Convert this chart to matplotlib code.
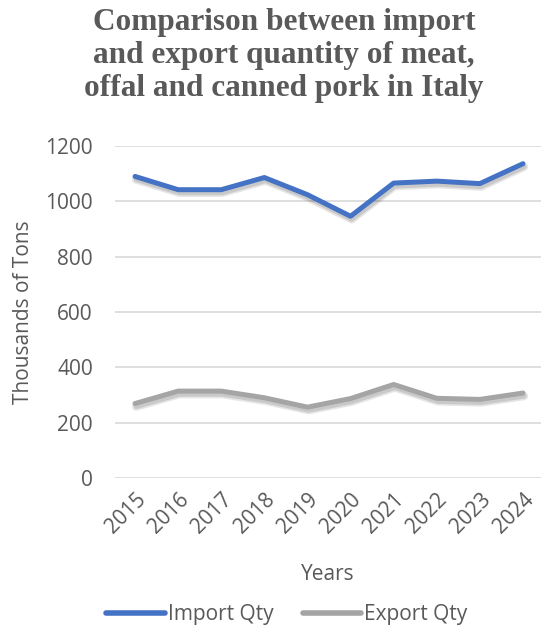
import matplotlib.pyplot as plt
import matplotlib.patheffects as pe

years = ["2015", "2016", "2017", "2018", "2019", "2020", "2021", "2022", "2023", "2024"]
import_qty = [1090, 1042, 1042, 1086, 1024, 946, 1066, 1073, 1064, 1136]
export_qty = [269, 314, 314, 290, 256, 287, 338, 288, 284, 307]

plt.rcParams['font.family'] = ['Open Sans', 'DejaVu Sans']

fig = plt.figure(figsize=(5.41, 6.32), dpi=100)
ax = fig.add_axes([0.2126, 0.2437, 0.7874, 0.5253])

# soft drop shadow under the lines
shadow = [pe.SimpleLineShadow(offset=(0.8, -2.2), shadow_color='black', alpha=0.10, linewidth=6),
          pe.SimpleLineShadow(offset=(0.8, -2.2), shadow_color='black', alpha=0.12),
          pe.Normal()]
x = list(range(len(years)))
ax.plot(x, import_qty, color="#4472c4", lw=3.6, solid_capstyle='round',
        solid_joinstyle='round', label="Import Qty", path_effects=shadow)
ax.plot(x, export_qty, color="#a5a5a5", lw=3.6, solid_capstyle='round',
        solid_joinstyle='round', label="Export Qty", path_effects=shadow)

ax.set_ylim(0, 1200)
ax.set_xlim(-0.464, 9.418)
ax.set_yticks(range(0, 1201, 200))
ax.set_xticks(x)
ax.set_xticklabels(years, rotation=45, ha='right', rotation_mode='anchor')
ax.tick_params(colors="#595959", labelsize=15, length=0)
ax.tick_params(axis='x', pad=8)
ax.tick_params(axis='y', pad=16)
ax.grid(axis='y', color="#d9d9d9", lw=1.2)
ax.set_axisbelow(True)
for s in ax.spines.values():
    s.set_visible(False)

ax.set_xlabel("Years", fontsize=15, color="#595959", labelpad=19)
ax.set_ylabel("Thousands of Tons", fontsize=15, color="#595959", labelpad=8)

fig.text(0.525, 0.988, "Comparison between import\nand export quantity of meat,\noffal and canned pork in Italy",
         ha='center', va='top', family='Liberation Serif', fontweight='bold',
         fontsize=22.5, color="#595959", linespacing=1.2)

leg = fig.legend(loc='center', bbox_to_anchor=(0.53, 0.027), ncol=2, frameon=False,
                 fontsize=15, labelcolor="#595959", handlelength=2.8, handletextpad=0.15,
                 columnspacing=1.4)
for h in leg.legend_handles:
    h.set_path_effects([pe.Normal()])
    h.set_linewidth(4)

fig.savefig("out.png", dpi=100)
